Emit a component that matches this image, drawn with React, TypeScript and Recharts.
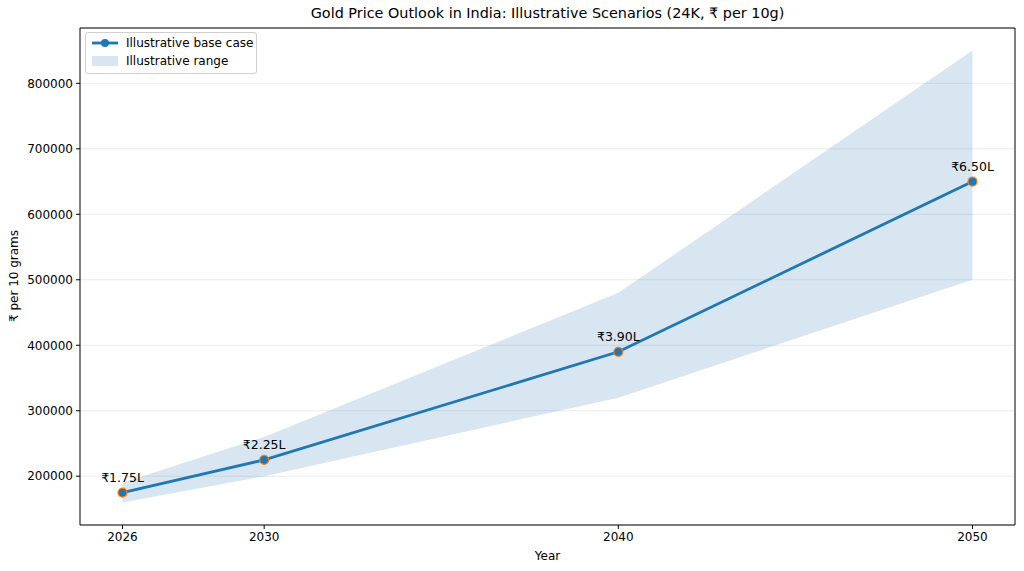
import React from 'react';
import {
  ComposedChart,
  Line,
  Area,
  XAxis,
  YAxis,
  CartesianGrid,
  ReferenceLine,
  LabelList,
} from 'recharts';

const years = [2026, 2030, 2040, 2050];
const baseCase = [175000, 225000, 390000, 650000];
const rangeLow = [160000, 200000, 320000, 500000];
const rangeHigh = [190000, 260000, 480000, 850000];
const yTicks = [200000, 300000, 400000, 500000, 600000, 700000, 800000];
const xTicks = [2026, 2030, 2040, 2050];

const data = years.map((y, i) => ({
  year: y,
  base: baseCase[i],
  range: [rangeLow[i], rangeHigh[i]],
}));

const X_DOMAIN: [number, number] = [2024.8, 2051.2];
const Y_DOMAIN: [number, number] = [125500, 884500];

const FONT = '"DejaVu Sans", sans-serif';
const BLUE = '#1f77b4';
const ORANGE = '#ff7f0e';

const fmtLakh = (v: any) => `₹${(Number(v) / 100000).toFixed(2)}L`;

export default function App() {
  return (
    <div style={{ position: 'absolute', left: 0, top: 0, width: 1024, height: 571, background: '#fff', fontFamily: FONT }}>
      <div
        style={{
          position: 'absolute',
          top: 5,
          left: 80,
          width: 935,
          textAlign: 'center',
          fontSize: 14.4,
          color: '#000',
          fontFamily: FONT,
        }}
      >
        Gold Price Outlook in India: Illustrative Scenarios (24K, ₹ per 10g)
      </div>
      <div
        style={{
          position: 'absolute',
          left: 85,
          top: 32,
          width: 170,
          height: 40,
          border: '1px solid #d0d0d0',
          borderRadius: 3,
          background: 'rgba(255,255,255,0.8)',
          fontSize: 12,
          fontFamily: FONT,
          zIndex: 2,
        }}
      >
        <div style={{ position: 'absolute', left: 6, top: 3, display: 'flex', alignItems: 'center' }}>
          <svg width={28} height={12}>
            <line x1={0} y1={6} x2={26} y2={6} stroke={BLUE} strokeWidth={2.8} />
            <circle cx={13} cy={6} r={4} fill={BLUE} />
          </svg>
          <span style={{ marginLeft: 6 }}>Illustrative base case</span>
        </div>
        <div style={{ position: 'absolute', left: 6, top: 21, display: 'flex', alignItems: 'center' }}>
          <svg width={28} height={12}>
            <rect x={0} y={1} width={26} height={10} fill={BLUE} fillOpacity={0.18} />
          </svg>
          <span style={{ marginLeft: 6 }}>Illustrative range</span>
        </div>
      </div>
      <div
        style={{
          position: 'absolute',
          left: 14,
          top: 276,
          transform: 'translate(-50%, -50%) rotate(-90deg)',
          fontSize: 12,
          whiteSpace: 'nowrap',
          fontFamily: FONT,
        }}
      >
        ₹ per 10 grams
      </div>
      <ComposedChart
        width={1024}
        height={571}
        data={data}
        margin={{ top: 28, right: 9, bottom: 0, left: 0 }}
        style={{ position: 'absolute', left: 0, top: 0 }}
      >
        <CartesianGrid horizontal vertical={false} stroke="#e6e6e6" strokeWidth={0.8} />
        <XAxis
          dataKey="year"
          type="number"
          domain={X_DOMAIN}
          ticks={xTicks}
          allowDataOverflow
          height={46}
          stroke="#000"
          tickSize={4}
          tick={{ fill: '#000', fontSize: 12, fontFamily: FONT }}
          tickMargin={3}
          label={{ value: 'Year', position: 'insideBottom', offset: 11, fill: '#000', fontSize: 12, fontFamily: FONT }}
        />
        <YAxis
          type="number"
          domain={Y_DOMAIN}
          ticks={yTicks}
          allowDataOverflow
          width={80}
          stroke="#000"
          tickSize={4}
          tickMargin={3}
          tick={{ fill: '#000', fontSize: 12, fontFamily: FONT }}
        />
        <ReferenceLine y={Y_DOMAIN[1]} stroke="#000" strokeWidth={1} />
        <ReferenceLine x={X_DOMAIN[1]} stroke="#000" strokeWidth={1} />
        <Area
          dataKey="range"
          type="linear"
          stroke="none"
          fill={BLUE}
          fillOpacity={0.18}
          isAnimationActive={false}
          activeDot={false}
        />
        <Line
          dataKey="base"
          type="linear"
          stroke={BLUE}
          strokeWidth={2.8}
          dot={{ r: 4.5, fill: BLUE, stroke: ORANGE, strokeWidth: 1.2 }}
          activeDot={false}
          isAnimationActive={false}
        >
          <LabelList
            dataKey="base"
            position="top"
            offset={11}
            formatter={fmtLakh}
            style={{ fill: '#000', fontSize: 12.5, fontFamily: FONT }}
          />
        </Line>
      </ComposedChart>
    </div>
  );
}
